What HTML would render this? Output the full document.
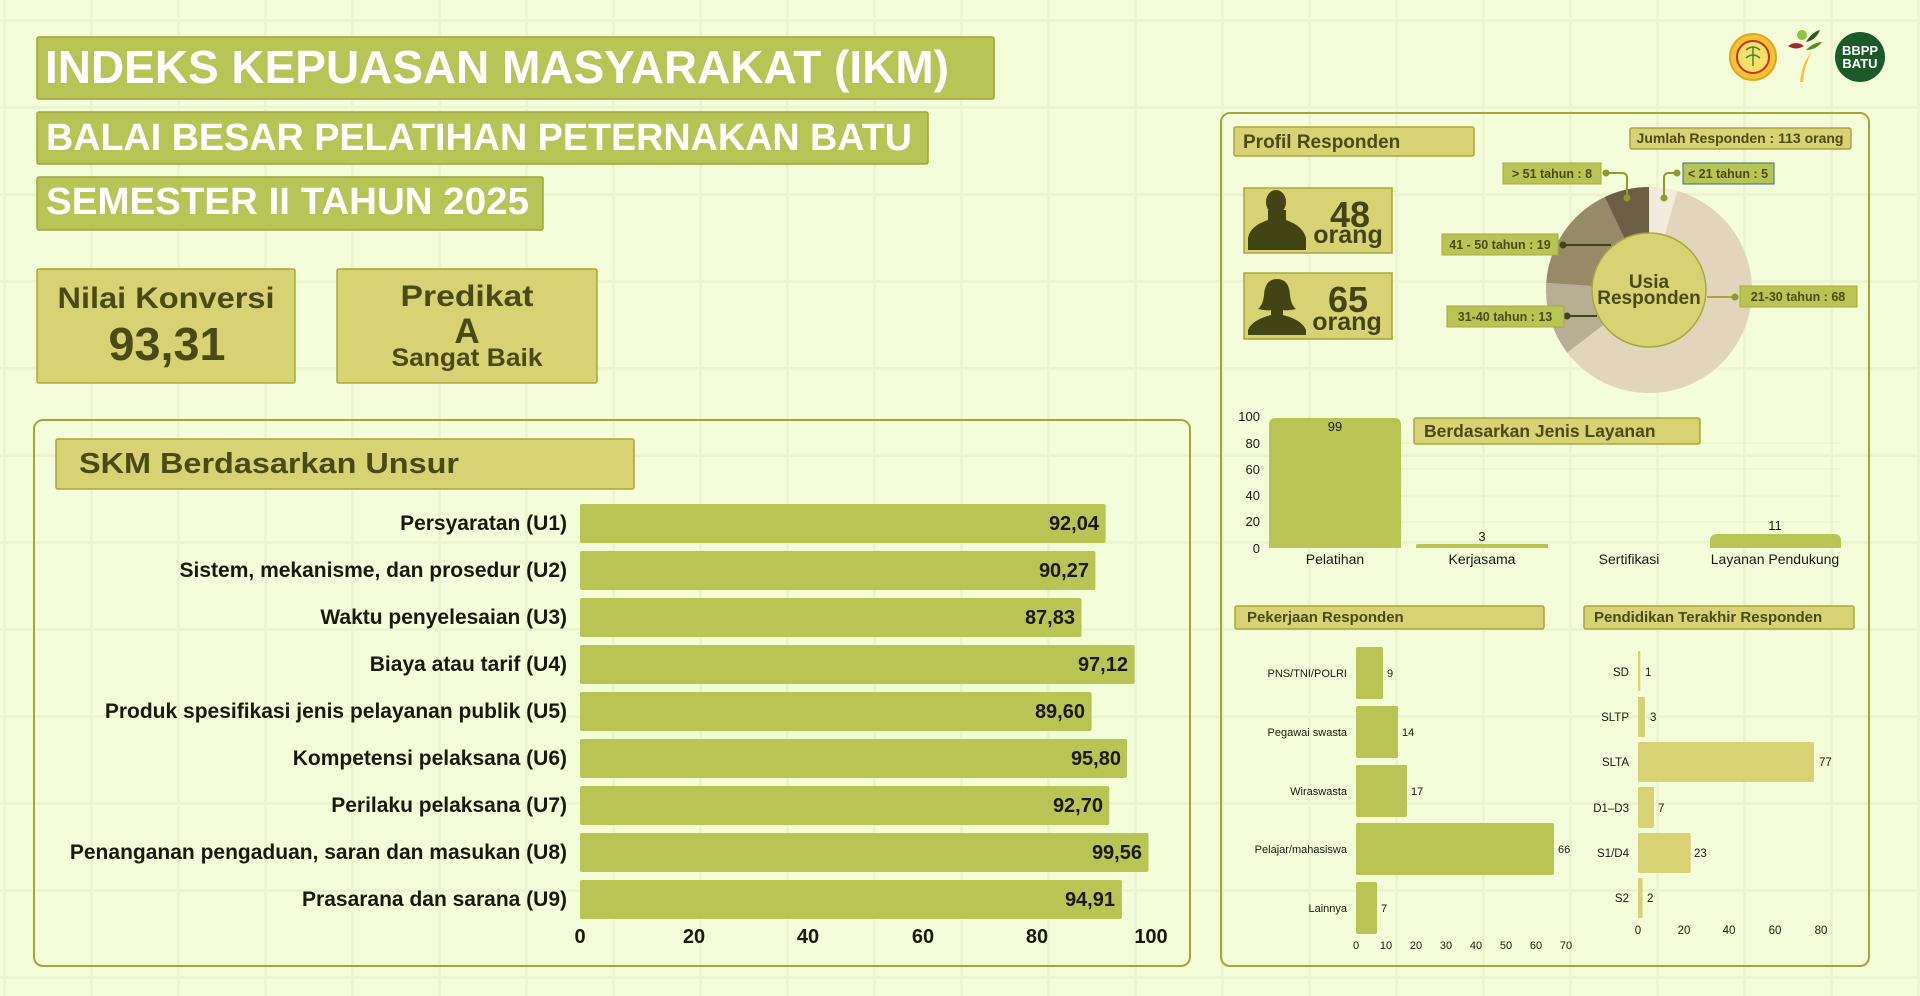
<!DOCTYPE html>
<html><head><meta charset="utf-8"><style>
html,body{margin:0;padding:0;background:#f4fcd9;}
svg{display:block;font-family:"Liberation Sans",sans-serif;}
</style></head><body>
<svg width="1920" height="996" viewBox="0 0 1920 996" xmlns="http://www.w3.org/2000/svg">
<defs>
<pattern id="grid" x="3" y="19" width="87" height="87" patternUnits="userSpaceOnUse">
<rect x="0" y="0" width="3" height="87" fill="#ecf4d0"/><rect x="0" y="0" width="87" height="3" fill="#ecf4d0"/>
</pattern>
</defs>
<rect width="1920" height="996" fill="#f4fcd9"/>
<rect width="1920" height="996" fill="url(#grid)"/>

<!-- titles -->
<rect x="37" y="37" width="957" height="62" rx="2" fill="#b7c456" stroke="#9ea53a" stroke-width="1.5"/>
<text x="45" y="83" font-size="46" font-weight="bold" fill="#fff" textLength="904" lengthAdjust="spacingAndGlyphs">INDEKS KEPUASAN MASYARAKAT (IKM)</text>
<rect x="37" y="112" width="891" height="52" rx="2" fill="#b7c456" stroke="#9ea53a" stroke-width="1.5"/>
<text x="46" y="150" font-size="38" font-weight="bold" fill="#fff" textLength="866" lengthAdjust="spacingAndGlyphs">BALAI BESAR PELATIHAN PETERNAKAN BATU</text>
<rect x="37" y="177" width="506" height="53" rx="2" fill="#b7c456" stroke="#9ea53a" stroke-width="1.5"/>
<text x="46" y="214" font-size="38" font-weight="bold" fill="#fff" textLength="483" lengthAdjust="spacingAndGlyphs">SEMESTER II TAHUN 2025</text>

<!-- KPI boxes -->
<rect x="37" y="269" width="258" height="114" rx="2" fill="#d7d274" stroke="#a7a83c" stroke-width="1.5"/>
<text x="166" y="308" font-size="30" font-weight="bold" fill="#4a4b14" text-anchor="middle" textLength="217" lengthAdjust="spacingAndGlyphs">Nilai Konversi</text>
<text x="167" y="360" font-size="46" font-weight="bold" fill="#4a4b14" text-anchor="middle" textLength="117" lengthAdjust="spacingAndGlyphs">93,31</text>
<rect x="337" y="269" width="260" height="114" rx="2" fill="#d7d274" stroke="#a7a83c" stroke-width="1.5"/>
<text x="467" y="306" font-size="30" font-weight="bold" fill="#4a4b14" text-anchor="middle" textLength="133" lengthAdjust="spacingAndGlyphs">Predikat</text>
<text x="467" y="343" font-size="35" font-weight="bold" fill="#4a4b14" text-anchor="middle">A</text>
<text x="467" y="366" font-size="25" font-weight="bold" fill="#4a4b14" text-anchor="middle" textLength="151" lengthAdjust="spacingAndGlyphs">Sangat Baik</text>

<!-- logos -->
<circle cx="1753" cy="57" r="23" fill="#f2c534" stroke="#e0a820" stroke-width="2"/>
<circle cx="1753" cy="57" r="16" fill="#f6e06a" stroke="#d02a2a" stroke-width="2"/>
<path d="M1746 50 q7 -6 14 0 M1746 58 q7 -6 14 0 M1753 46 v20" stroke="#3a8a3a" stroke-width="1.5" fill="none"/>
<circle cx="1802" cy="35" r="5" fill="#8cc63e"/>
<path d="M1788 46 q8 -6 16 0 q-8 5 -16 0z" fill="#a02a2a"/>
<path d="M1806 42 q6 -10 14 -12 q-4 10 -14 12z" fill="#2f5a1e"/>
<path d="M1806 50 q8 -8 16 -8 q-6 8 -16 8z" fill="#5a8a2a"/>
<path d="M1800 82 q2 -20 12 -30 q-8 14 -9 30z" fill="#f2c534"/>
<circle cx="1860" cy="57" r="25" fill="#1d5a2a"/>
<text x="1860" y="55" font-size="13" font-weight="bold" fill="#fff" text-anchor="middle">BBPP</text>
<text x="1860" y="68" font-size="13" font-weight="bold" fill="#fff" text-anchor="middle">BATU</text>

<!-- left panel -->
<rect x="34" y="420" width="1156" height="546" rx="9" fill="none" stroke="#a3a63a" stroke-width="2"/>
<rect x="56" y="439" width="578" height="50" rx="2" fill="#d7d274" stroke="#a7a83c" stroke-width="1.5"/>
<text x="79" y="473" font-size="29" font-weight="bold" fill="#4a4b14" textLength="380" lengthAdjust="spacingAndGlyphs">SKM Berdasarkan Unsur</text>
<g font-size="21" font-weight="bold" fill="#1a1a0a">
<g text-anchor="end">
<text x="567" y="530">Persyaratan (U1)</text>
<text x="567" y="577">Sistem, mekanisme, dan prosedur (U2)</text>
<text x="567" y="624">Waktu penyelesaian (U3)</text>
<text x="567" y="671">Biaya atau tarif (U4)</text>
<text x="567" y="718">Produk spesifikasi jenis pelayanan publik (U5)</text>
<text x="567" y="765">Kompetensi pelaksana (U6)</text>
<text x="567" y="812">Perilaku pelaksana (U7)</text>
<text x="567" y="859">Penanganan pengaduan, saran dan masukan (U8)</text>
<text x="567" y="906">Prasarana dan sarana (U9)</text>
</g>
<g fill="#b8c554">
<rect x="580" y="504" width="525.6" height="39" rx="2"/>
<rect x="580" y="551" width="515.4" height="39" rx="2"/>
<rect x="580" y="598" width="501.5" height="39" rx="2"/>
<rect x="580" y="645" width="554.6" height="39" rx="2"/>
<rect x="580" y="692" width="511.6" height="39" rx="2"/>
<rect x="580" y="739" width="547.0" height="39" rx="2"/>
<rect x="580" y="786" width="529.3" height="39" rx="2"/>
<rect x="580" y="833" width="568.5" height="39" rx="2"/>
<rect x="580" y="880" width="541.9" height="39" rx="2"/>
</g>
<g text-anchor="end" font-size="20">
<text x="1099" y="530">92,04</text>
<text x="1089" y="577">90,27</text>
<text x="1075" y="624">87,83</text>
<text x="1128" y="671">97,12</text>
<text x="1085" y="718">89,60</text>
<text x="1121" y="765">95,80</text>
<text x="1103" y="812">92,70</text>
<text x="1142" y="859">99,56</text>
<text x="1115" y="906">94,91</text>
</g>
<g text-anchor="middle" font-size="20">
<text x="580" y="943">0</text><text x="694" y="943">20</text><text x="808" y="943">40</text><text x="923" y="943">60</text><text x="1037" y="943">80</text><text x="1151" y="943">100</text>
</g>
</g>

<!-- right panel -->
<rect x="1221" y="113" width="648" height="853" rx="9" fill="none" stroke="#a3a63a" stroke-width="2"/>
<rect x="1234" y="127" width="240" height="29" rx="2" fill="#d7d274" stroke="#a7a83c" stroke-width="1.5"/>
<text x="1243" y="148" font-size="19" font-weight="bold" fill="#4a4b14">Profil Responden</text>
<rect x="1630" y="128" width="221" height="21" rx="2" fill="#d7d274" stroke="#a7a83c" stroke-width="1.5"/>
<text x="1740" y="143" font-size="14" font-weight="bold" fill="#4a4b14" text-anchor="middle">Jumlah Responden : 113 orang</text>

<rect x="1244" y="188" width="148" height="65" fill="#d7d274" stroke="#a7a83c" stroke-width="1.5"/>
<g fill="#434414">
<ellipse cx="1276" cy="202" rx="10" ry="12"/>
<path d="M1268 210 L1268 220 Q1250 226 1248 238 L1248 250 L1306 250 L1306 238 Q1303 226 1286 220 L1286 210 Z"/>
</g>
<text x="1350" y="227" font-size="36" font-weight="bold" fill="#434414" text-anchor="middle">48</text>
<text x="1348" y="243" font-size="25" font-weight="bold" fill="#434414" text-anchor="middle">orang</text>
<rect x="1244" y="273" width="148" height="66" fill="#d7d274" stroke="#a7a83c" stroke-width="1.5"/>
<g fill="#434414">
<path d="M1277 279 Q1265 279 1264 295 Q1263 305 1258 309 Q1268 311 1271 310 L1271 315 Q1252 320 1248 330 L1248 335 L1306 335 L1306 330 Q1302 320 1283 315 L1283 310 Q1287 311 1296 309 Q1291 305 1290 295 Q1289 279 1277 279Z"/>
</g>
<text x="1348" y="312" font-size="36" font-weight="bold" fill="#434414" text-anchor="middle">65</text>
<text x="1347" y="330" font-size="25" font-weight="bold" fill="#434414" text-anchor="middle">orang</text>

<!-- donut -->
<path d="M1649 290 L1649 187 A103 103 0 0 1 1677.3 191 Z" fill="#f3ecdc"/>
<path d="M1649 290 L1677.3 191 A103 103 0 1 1 1567.2 352.6 Z" fill="#e1d6bb"/>
<path d="M1649 290 L1567.2 352.6 A103 103 0 0 1 1546.2 282.9 Z" fill="#b8ae95"/>
<path d="M1649 290 L1546.2 282.9 A103 103 0 0 1 1604.7 197 Z" fill="#978a68"/>
<path d="M1649 290 L1604.7 197 A103 103 0 0 1 1649 187 Z" fill="#6a5e45"/>
<circle cx="1649" cy="290" r="57" fill="#d7d274" stroke="#a7a83c" stroke-width="1.5"/>
<text x="1649" y="288" font-size="19" font-weight="bold" fill="#4a4b14" text-anchor="middle">Usia</text>
<text x="1649" y="304" font-size="19" font-weight="bold" fill="#4a4b14" text-anchor="middle">Responden</text>

<g stroke-width="2" fill="none">
<path d="M1606 173 H1622 Q1627 173 1627 178 V198" stroke="#8f9a2c"/>
<path d="M1677 173 H1669 Q1664 173 1664 178 V198" stroke="#8f9a2c"/>
<path d="M1563 245 H1611" stroke="#434414"/>
<path d="M1707 297 H1735" stroke="#a7a83c"/>
<path d="M1567 316 H1597" stroke="#434414"/>
</g>
<g fill="#8f9a2c"><circle cx="1606" cy="173" r="3.5"/><circle cx="1627" cy="198" r="3.5"/><circle cx="1677" cy="173" r="3.5"/><circle cx="1664" cy="198" r="3.5"/><circle cx="1735" cy="297" r="3.5"/></g>
<g fill="#434414"><circle cx="1563" cy="245" r="3.5"/><circle cx="1567" cy="316" r="3.5"/></g>
<g font-size="12.5" font-weight="bold" fill="#4a4b14" text-anchor="middle">
<rect x="1503" y="163" width="98" height="21" fill="#b8c554" stroke="#a7a83c"/><text x="1552" y="178">&gt; 51 tahun : 8</text>
<rect x="1683" y="163" width="91" height="21" fill="#b8c554" stroke="#3a6a8a"/><text x="1728" y="178">&lt; 21 tahun : 5</text>
<rect x="1442" y="234" width="116" height="21" fill="#b8c554" stroke="#a7a83c"/><text x="1500" y="249">41 - 50 tahun : 19</text>
<rect x="1740" y="286" width="117" height="21" fill="#b8c554" stroke="#a7a83c"/><text x="1798" y="301">21-30 tahun : 68</text>
<rect x="1447" y="306" width="117" height="21" fill="#b8c554" stroke="#a7a83c"/><text x="1505" y="321">31-40 tahun : 13</text>
</g>

<!-- jenis layanan -->
<g stroke="#e8efcc" stroke-width="1">
<line x1="1401" y1="522" x2="1841" y2="522"/><line x1="1401" y1="496" x2="1841" y2="496"/><line x1="1401" y1="469" x2="1841" y2="469"/><line x1="1401" y1="443" x2="1841" y2="443"/>
</g>
<g font-size="13" fill="#1a1a0a" text-anchor="end">
<text x="1260" y="421">100</text><text x="1260" y="448">80</text><text x="1260" y="474">60</text><text x="1260" y="500">40</text><text x="1260" y="526">20</text><text x="1260" y="553">0</text>
</g>
<path d="M1269 548 V425 Q1269 418 1276 418 H1394 Q1401 418 1401 425 V548Z" fill="#b8c554"/>
<path d="M1416 548 V545 Q1416 544 1418 544 H1546 Q1548 544 1548 545 V548Z" fill="#b8c554"/>
<path d="M1710 548 V541 Q1710 534 1717 534 H1834 Q1841 534 1841 541 V548Z" fill="#b8c554"/>
<g font-size="13" fill="#1a1a0a" text-anchor="middle">
<text x="1335" y="431">99</text><text x="1482" y="541">3</text><text x="1775" y="530">11</text>
<text x="1335" y="564" font-size="14">Pelatihan</text><text x="1482" y="564" font-size="14">Kerjasama</text><text x="1629" y="564" font-size="14">Sertifikasi</text><text x="1775" y="564" font-size="14">Layanan Pendukung</text>
</g>
<rect x="1414" y="418" width="286" height="26" rx="2" fill="#d7d274" stroke="#a7a83c" stroke-width="1.5"/>
<text x="1424" y="437" font-size="17.5" font-weight="bold" fill="#4a4b14">Berdasarkan Jenis Layanan</text>

<!-- pekerjaan -->
<rect x="1235" y="606" width="309" height="23" rx="2" fill="#d7d274" stroke="#a7a83c" stroke-width="1.5"/>
<text x="1247" y="622" font-size="15" font-weight="bold" fill="#4a4b14">Pekerjaan Responden</text>
<rect x="1584" y="606" width="270" height="23" rx="2" fill="#d7d274" stroke="#a7a83c" stroke-width="1.5"/>
<text x="1594" y="622" font-size="15" font-weight="bold" fill="#4a4b14">Pendidikan Terakhir Responden</text>

<g fill="#b8c554">
<rect x="1356" y="647" width="27" height="52" rx="2"/>
<rect x="1356" y="706" width="42" height="52" rx="2"/>
<rect x="1356" y="765" width="51" height="52" rx="2"/>
<rect x="1356" y="823" width="198" height="52" rx="2"/>
<rect x="1356" y="882" width="21" height="52" rx="2"/>
</g>
<g font-size="11" fill="#1a1a0a">
<g text-anchor="end">
<text x="1347" y="677">PNS/TNI/POLRI</text><text x="1347" y="736">Pegawai swasta</text><text x="1347" y="795">Wiraswasta</text><text x="1347" y="853">Pelajar/mahasiswa</text><text x="1347" y="912">Lainnya</text>
</g>
<text x="1387" y="677">9</text><text x="1402" y="736">14</text><text x="1411" y="795">17</text><text x="1558" y="853">66</text><text x="1381" y="912">7</text>
<g text-anchor="middle">
<text x="1356" y="949">0</text><text x="1386" y="949">10</text><text x="1416" y="949">20</text><text x="1446" y="949">30</text><text x="1476" y="949">40</text><text x="1506" y="949">50</text><text x="1536" y="949">60</text><text x="1566" y="949">70</text>
</g>
</g>

<!-- pendidikan -->
<g fill="#d7d274">
<rect x="1638" y="651" width="2.3" height="40" rx="1"/>
<rect x="1638" y="697" width="6.9" height="40" rx="1"/>
<rect x="1638" y="742" width="176" height="40" rx="2"/>
<rect x="1638" y="787" width="16" height="41" rx="2"/>
<rect x="1638" y="833" width="52.7" height="40" rx="2"/>
<rect x="1638" y="878" width="4.6" height="40" rx="1"/>
</g>
<g font-size="11.5" fill="#1a1a0a">
<g text-anchor="end">
<text x="1629" y="676">SD</text><text x="1629" y="721">SLTP</text><text x="1629" y="766">SLTA</text><text x="1629" y="812">D1–D3</text><text x="1629" y="857">S1/D4</text><text x="1629" y="902">S2</text>
</g>
<text x="1645" y="676">1</text><text x="1650" y="721">3</text><text x="1819" y="766">77</text><text x="1658" y="812">7</text><text x="1694" y="857">23</text><text x="1647" y="902">2</text>
<g text-anchor="middle">
<text x="1638" y="934">0</text><text x="1684" y="934">20</text><text x="1729" y="934">40</text><text x="1775" y="934">60</text><text x="1821" y="934">80</text>
</g>
</g>
</svg>
</body></html>
